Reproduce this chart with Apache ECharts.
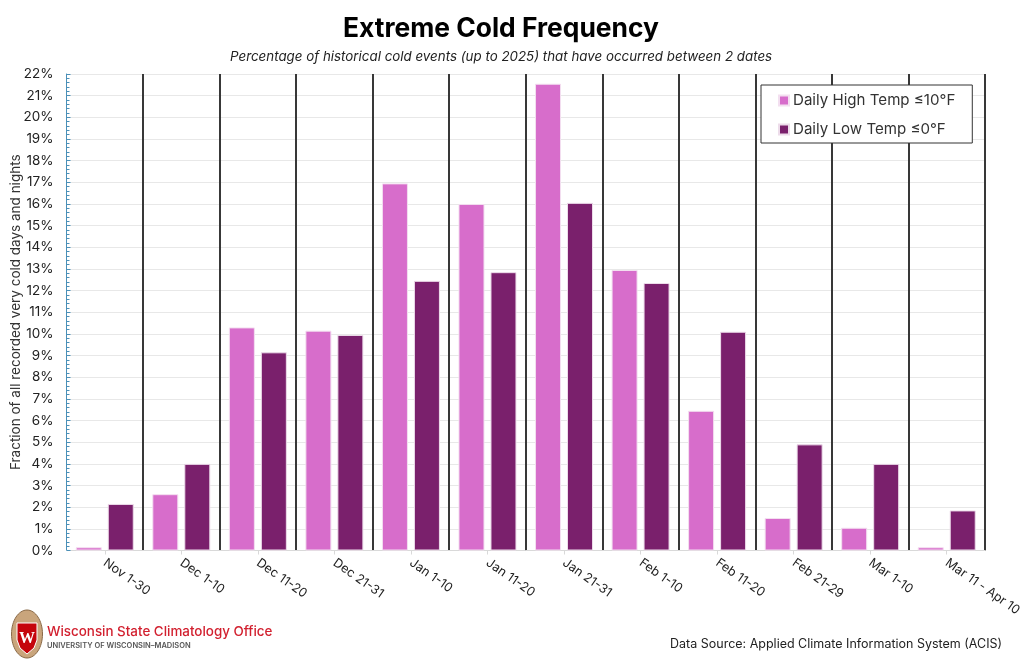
<!DOCTYPE html>
<html><head><meta charset="utf-8">
<script src="https://cdn.jsdelivr.net/npm/echarts@6/dist/echarts.min.js"></script>
<style>html,body{margin:0;padding:0;background:#fff}#c{width:1024px;height:659px}</style>
</head><body><div id="c"></div>
<script>
const categories = ['Nov 1-30','Dec 1-10','Dec 11-20','Dec 21-31','Jan 1-10','Jan 11-20','Jan 21-31','Feb 1-10','Feb 11-20','Feb 21-29','Mar 1-10','Mar 11 - Apr 10'];
const highTemp = [0.15,2.6,10.3,10.15,16.95,16.0,21.55,12.95,6.45,1.5,1.05,0.15];
const lowTemp = [2.15,4.0,9.15,9.95,12.45,12.85,16.05,12.35,10.1,4.9,4.0,1.85];
const FONT = 'Inter, "Open Sans", sans-serif';
const chart = echarts.init(document.getElementById('c'), null, {renderer:'canvas'});
chart.setOption({
  animation:false,
  backgroundColor:'#fff',
  textStyle:{fontFamily:FONT},
  title:[
    {text:'Extreme Cold Frequency',left:338,top:11,textStyle:{fontFamily:FONT,fontSize:26.4,fontWeight:700,color:'#000'}},
    {text:'Percentage of historical cold events (up to 2025) that have occurred between 2 dates',left:225,top:45,textStyle:{fontFamily:FONT,fontSize:13.35,fontStyle:'italic',fontWeight:400,color:'#222'}}
  ],
  grid:{left:66.5,right:39,top:74,bottom:108.5,containLabel:false,outerBoundsMode:'none'},
  legend:{
    orient:'vertical',left:761,top:85,itemWidth:10,itemHeight:10,itemGap:14,
    padding:[8,17,6,17],backgroundColor:'#fff',borderColor:'#333',borderWidth:1,
    icon:'rect',z:20,
    textStyle:{fontFamily:FONT,fontSize:15.1,color:'#333',padding:[0,0,0,-1]}
  },
  xAxis:{
    type:'category',data:categories,
    axisLine:{show:true,lineStyle:{color:'#d9d9d9',width:1}},
    axisTick:{show:true,alignWithLabel:true,length:4,lineStyle:{color:'#d9d9d9'}},
    axisLabel:{rotate:-35,interval:0,margin:11,fontSize:12.6,color:'#222',fontFamily:FONT},
    splitLine:{show:true,interval:0,showMinLine:false,lineStyle:{color:'#383838',width:2}}
  },
  yAxis:{
    type:'value',min:0,max:22,interval:1,
    name:'Fraction of all recorded very cold days and nights',
    nameLocation:'middle',nameGap:44,nameMoveOverlap:false,nameTextStyle:{fontSize:13.5,color:'#333',fontFamily:FONT},
    axisLine:{show:true,lineStyle:{color:'#4a90b8',width:1}},
    axisTick:{show:true,inside:true,length:4,lineStyle:{color:'#4a90b8'}},
    minorTick:{show:true,splitNumber:5,length:3,lineStyle:{color:'#4a90b8'}},
    axisLabel:{formatter:'{value}%',fontSize:13.5,margin:13,color:'#222',fontFamily:FONT},
    splitLine:{show:true,lineStyle:{color:'#e8e8e8',width:1.2}}
  },
  series:[
    {name:'Daily High Temp ≤10°F',type:'bar',data:highTemp,barWidth:26,barGap:'23%',itemStyle:{color:'#d76dcb',borderColor:'#f3dff0',borderWidth:1},z:3},
    {name:'Daily Low Temp ≤0°F',type:'bar',data:lowTemp,barWidth:26,itemStyle:{color:'#7a206c',borderColor:'#eddcea',borderWidth:1},z:3}
  ],
  graphic:[
    {type:'text',left:47,top:625,style:{text:'Wisconsin State Climatology Office',font:'500 13.4px '+FONT,fill:'#d2202f'}},
    {type:'text',left:47,top:642,style:{text:'UNIVERSITY OF WISCONSIN–MADISON',font:'600 7.5px '+FONT,fill:'#555'}},
    {type:'text',left:670,top:638,style:{text:'Data Source: Applied Climate Information System (ACIS)',font:'400 12.5px '+FONT,fill:'#222'}},
    {type:'ellipse',shape:{cx:27,cy:634,rx:15.5,ry:24},style:{fill:'#c9a57c',stroke:'#8a6a48',lineWidth:1}},
    {type:'polygon',shape:{points:[[17,623],[37,623],[37,640],[34,648],[27,654],[20,648],[17,640]]},style:{fill:'#c5050c',stroke:'#fff',lineWidth:1}},
    {type:'text',x:27,y:631,style:{text:'W',font:'700 16px "Liberation Serif", serif',fill:'#fff',textAlign:'center'}}
  ]
});
</script></body></html>
